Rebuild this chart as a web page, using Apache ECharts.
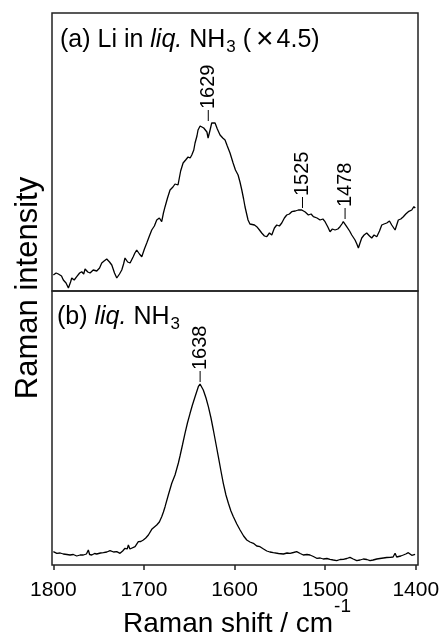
<!DOCTYPE html>
<html>
<head>
<meta charset="utf-8">
<script src="https://cdn.jsdelivr.net/npm/echarts@6/dist/echarts.min.js"></script>
<style>
    html, body { margin: 0; padding: 0; background: #fff; }
    #main { width: 440px; height: 639px; }
</style>
</head>
<body>
<div id="main"></div>
<script>
// x ticks (cm-1)
var shiftTicks = [1800, 1700, 1600, 1500, 1400];

// (a) Li in liq. NH3, x4.5  [shift, intensity a.u.]
var liSpectrum = [
    [1800, 16], [1797, 18], [1794.5, 17], [1791, 15], [1789, 11], [1786, 8], [1783.4, 3], [1781, 9], [1779.7, 13],
    [1777, 11], [1774.2, 14.3], [1771, 18], [1768.7, 19.3], [1766.5, 17], [1765, 22], [1762, 19], [1759.5, 18],
    [1756, 21], [1752.1, 20], [1749, 23], [1746.6, 28], [1744, 30], [1741.1, 32], [1738, 29], [1735.5, 26],
    [1732.5, 18], [1730, 13], [1727, 17], [1724.5, 21], [1722.5, 27], [1720.9, 33], [1718, 29], [1715.3, 28],
    [1712, 34], [1710, 38], [1708, 41], [1705, 37], [1702.4, 34.3], [1699.5, 42], [1696.9, 48], [1694, 55],
    [1691.4, 61], [1688.5, 65], [1685.9, 71], [1683, 73], [1680.4, 69.3], [1678.5, 78], [1676.7, 84.3],
    [1674, 93], [1671.2, 101], [1668, 104], [1665.7, 107], [1662.4, 106], [1659.5, 120], [1656.8, 128],
    [1654, 131], [1651.3, 134], [1649, 133], [1647.2, 136], [1645, 141], [1643.6, 148], [1641.5, 155],
    [1640.3, 161], [1638, 165], [1636.2, 166], [1634, 163], [1632.6, 161], [1630.5, 159], [1629.2, 153],
    [1627, 161], [1625.2, 168], [1623, 166], [1621.5, 168], [1619, 162], [1616, 156], [1613, 153],
    [1610.5, 151], [1608, 145], [1605, 138], [1601.6, 128], [1599, 121], [1596.1, 116], [1594, 109],
    [1592, 101], [1590, 92], [1588.4, 84], [1585.1, 71], [1583, 67], [1581, 65], [1578, 66], [1575.5, 64.3],
    [1572.5, 61], [1570, 58], [1567, 55], [1564.4, 54.3], [1561.5, 58], [1558.9, 56], [1556, 63],
    [1553.4, 66], [1550.5, 65], [1547.9, 68], [1545, 73], [1542.4, 76], [1539.5, 77], [1536.9, 79.3],
    [1533, 80], [1529.6, 81], [1525.8, 81], [1522, 79], [1518.5, 76], [1515.5, 77], [1513, 74.3],
    [1509, 73], [1505.6, 71], [1502.5, 72], [1500.1, 69.3], [1497, 64], [1494.6, 59.3], [1492, 62],
    [1489.1, 61], [1486, 62], [1483.6, 64.3], [1481.5, 67], [1480, 69.3], [1478, 70], [1476.2, 64.3],
    [1473, 60], [1470.6, 56], [1467, 51], [1465, 47], [1463.3, 43], [1461.5, 48], [1459.6, 53],
    [1457, 56], [1454.1, 58], [1451, 55], [1448.6, 53], [1446, 56], [1443, 54.3], [1440, 60],
    [1437.5, 66], [1435, 67], [1432, 68], [1429, 70], [1426.5, 66], [1424.5, 67], [1422.8, 61],
    [1421, 66], [1419.2, 71], [1416.5, 72], [1413.7, 74.3], [1411, 77], [1408.2, 79.3], [1406, 78],
    [1404.4, 81], [1402, 84.3], [1400.5, 83]
];

// (b) liq. NH3  [shift, intensity a.u.]
var nh3Spectrum = [
    [1800, 13.3], [1796.2, 11.7], [1792.5, 12], [1789, 11], [1785, 10.5], [1781.6, 10], [1778, 10.5],
    [1774.2, 9], [1770.5, 10], [1766.9, 10], [1763.5, 11], [1761.4, 15], [1760, 10.5], [1757.6, 10],
    [1754.5, 11.5], [1752.1, 11], [1748, 12], [1744.8, 12.3], [1741, 13], [1737.4, 14.3], [1733.5, 13],
    [1730, 13.3], [1726.4, 11.7], [1723.5, 14], [1720.9, 16.7], [1718.5, 16], [1717.2, 20], [1715.5, 16],
    [1713.5, 16.7], [1709.8, 18.3], [1706.2, 23.3], [1703.5, 23.5], [1700.7, 25], [1698, 27],
    [1695.1, 30], [1691.4, 35.7], [1688.5, 38], [1685.9, 40], [1683, 43], [1680.4, 48.3], [1678.5, 53],
    [1676.7, 58.3], [1673.1, 70], [1669.3, 81.7], [1665.7, 90], [1662, 102], [1660.2, 109], [1657.5, 120],
    [1654.7, 131.7], [1652, 142], [1649.1, 151.7], [1646.5, 160], [1643.6, 168.3], [1640, 178.3],
    [1638.1, 181], [1636.5, 179], [1634.5, 175], [1631.5, 167], [1628.9, 158.3], [1626, 147],
    [1623.4, 135], [1620.5, 121], [1617.9, 108.3], [1615, 94], [1612.4, 81.7], [1609.5, 70],
    [1606.8, 61.7], [1604, 54], [1601.3, 48.3], [1597.5, 41], [1593.9, 35], [1590, 29], [1586.5, 25],
    [1583, 23], [1579.2, 21.7], [1575.5, 19], [1571.9, 18.3], [1568, 16], [1564.4, 14], [1561, 13],
    [1557.2, 12.3], [1551.5, 11.5], [1546.1, 11], [1542, 12], [1538.7, 11.7], [1535, 12.5],
    [1531.4, 13.3], [1527.5, 11.5], [1524.1, 10], [1520, 10.5], [1516.7, 10], [1513, 8.5], [1509.3, 6.7],
    [1505.5, 7], [1502, 6], [1498, 6.5], [1494.6, 5.7], [1491, 5], [1487.2, 4.3], [1483.5, 5.5],
    [1480, 5.7], [1476, 6.5], [1472.6, 7.7], [1469, 6], [1465.1, 4.3], [1461.5, 5], [1457.8, 6],
    [1454, 5.5], [1450.4, 4.3], [1447, 5], [1443, 6], [1439.5, 6.5], [1435.7, 7], [1432, 7.5],
    [1428.3, 7.7], [1425, 8], [1422.8, 11.7], [1421, 8], [1419.2, 7.7], [1416.5, 9], [1413.7, 10],
    [1411, 11], [1408.2, 12.3], [1406, 10.5], [1404.4, 9.7], [1402.5, 11], [1400.7, 10.7]
];

// peak markers [shift, intensity at the peak]
var liPeaks = [[1629, 168], [1525, 81], [1478, 70]];
var nh3Peaks = [[1638, 181]];

var FONT = 'Liberation Sans, Arial, Helvetica, sans-serif';

var chart = echarts.init(document.getElementById('main'));

function renderPeak(params, api) {
    var p = api.coord([api.value(0), api.value(1)]);
    return {
        type: 'group',
        children: [{
            type: 'line',
            shape: { x1: p[0], y1: p[1] - 2, x2: p[0], y2: p[1] - 13 },
            style: { stroke: '#000', lineWidth: 1 }
        }, {
            type: 'text',
            x: p[0],
            y: p[1] - 14,
            rotation: Math.PI / 2,
            style: {
                text: String(api.value(0)),
                fill: '#000',
                fontSize: 20,
                fontFamily: FONT,
                align: 'left',
                verticalAlign: 'middle'
            }
        }]
    };
}

var xRange = { min: 1397.5, max: 1801.5 };

// rich styles for panel captions
var capRich = {
    n: { fontSize: 25, fontFamily: FONT, color: '#000', verticalAlign: 'middle' },
    i: { fontSize: 25, fontFamily: FONT, color: '#000', fontStyle: 'italic', verticalAlign: 'middle' },
    x: { fontSize: 30, fontFamily: FONT, color: '#000', verticalAlign: 'middle', padding: [0, 3, 0, 5] },
    sub: { fontSize: 17, fontFamily: FONT, color: '#000', verticalAlign: 'middle', padding: [14, 0, 0, 1] }
};

var option = {
    animation: false,
    backgroundColor: '#fff',
    grid: [
        { left: 52, width: 366, top: 13, height: 278, outerBoundsMode: 'none', containLabel: false,
          show: true, borderColor: '#222', borderWidth: 1.5, backgroundColor: 'transparent' },
        { left: 52, width: 366, top: 291, height: 274, outerBoundsMode: 'none', containLabel: false,
          show: true, borderColor: '#222', borderWidth: 1.5, backgroundColor: 'transparent' }
    ],
    xAxis: [{
        gridIndex: 0,
        type: 'value',
        inverse: true,
        min: xRange.min,
        max: xRange.max,
        show: false
    }, {
        gridIndex: 1,
        type: 'value',
        inverse: true,
        min: xRange.min,
        max: xRange.max,
        axisLine: { show: false },
        splitLine: { show: false },
        axisTick: {
            show: true,
            inside: false,
            length: 5,
            customValues: shiftTicks,
            lineStyle: { color: '#222', width: 1.5 }
        },
        axisLabel: {
            customValues: shiftTicks,
            color: '#000',
            fontSize: 21,
            fontFamily: FONT,
            margin: 15,
            hideOverlap: false,
            formatter: function (v) { return String(v); }
        }
    }],
    yAxis: [
        { gridIndex: 0, type: 'value', min: 0, max: 278, show: false },
        { gridIndex: 1, type: 'value', min: 0, max: 274, show: false }
    ],
    series: [{
        type: 'line',
        xAxisIndex: 0,
        yAxisIndex: 0,
        data: liSpectrum,
        showSymbol: false,
        lineStyle: { color: '#000', width: 1.3 }
    }, {
        type: 'line',
        xAxisIndex: 1,
        yAxisIndex: 1,
        data: nh3Spectrum,
        showSymbol: false,
        lineStyle: { color: '#000', width: 1.3 }
    }, {
        type: 'custom',
        xAxisIndex: 0,
        yAxisIndex: 0,
        data: liPeaks,
        renderItem: renderPeak,
        clip: false
    }, {
        type: 'custom',
        xAxisIndex: 1,
        yAxisIndex: 1,
        data: nh3Peaks,
        renderItem: renderPeak,
        clip: false
    }],
    graphic: [{
        type: 'text',
        x: 60,
        y: 40,
        style: {
            text: '{n|(a) Li in }{i|liq.}{n| NH}{sub|3}{n| (}{x|\u00d7}{n|4.5)}',
            fill: '#000',
            fontFamily: FONT,
            verticalAlign: 'middle',
            rich: capRich
        }
    }, {
        type: 'text',
        x: 57,
        y: 317,
        style: {
            text: '{n|(b) }{i|liq.}{n| NH}{sub|3}',
            fill: '#000',
            fontFamily: FONT,
            verticalAlign: 'middle',
            rich: capRich
        }
    }, {
        type: 'text',
        x: 28,
        y: 288,
        rotation: Math.PI / 2,
        style: {
            text: 'Raman intensity',
            fill: '#000',
            fontSize: 31,
            fontFamily: FONT,
            align: 'center',
            verticalAlign: 'middle'
        }
    }, {
        type: 'text',
        x: 237,
        y: 624,
        style: {
            text: '{n|Raman shift / cm}{sup|-1}',
            fill: '#000',
            fontFamily: FONT,
            align: 'center',
            verticalAlign: 'middle',
            rich: {
                n: { fontSize: 28, fontFamily: FONT, color: '#000', verticalAlign: 'middle' },
                sup: { fontSize: 19, fontFamily: FONT, color: '#000', verticalAlign: 'middle', padding: [0, 0, 34, 1] }
            }
        }
    }]
};

chart.setOption(option);
</script>
</body>
</html>
